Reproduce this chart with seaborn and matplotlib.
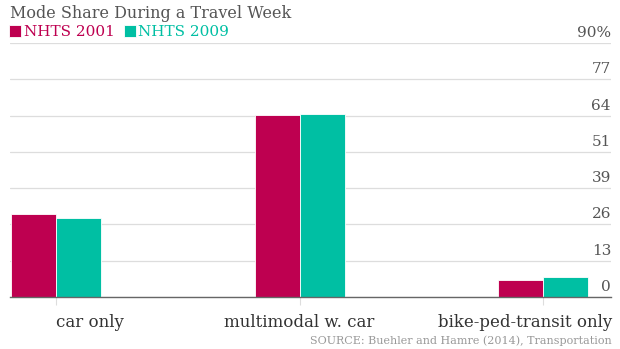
import numpy as np
import pandas as pd
import matplotlib
matplotlib.use("Agg")
import matplotlib.pyplot as plt
import matplotlib.transforms as mtransforms
import seaborn as sns

categories = ["car only", "multimodal w. car", "bike-ped-transit only"]
series_names = ["NHTS 2001", "NHTS 2009"]
share_2001 = [29.3, 64.5, 5.9]
share_2009 = [27.9, 64.8, 7.0]
ytick_values = [0, 90 / 7, 2 * 90 / 7, 3 * 90 / 7, 4 * 90 / 7, 5 * 90 / 7, 6 * 90 / 7, 90]
ytick_labels = ["0", "13", "26", "39", "51", "64", "77", "90%"]
colors = ["#BE0050", "#00BFA3"]

df = pd.DataFrame({
    "mode": categories * 2,
    "survey": [series_names[0]] * 3 + [series_names[1]] * 3,
    "share": share_2001 + share_2009,
})

sns.set_theme(style="white")
FONT = ["DejaVu Serif"]
plt.rcParams["font.family"] = FONT

fig = plt.figure(figsize=(6.2, 3.49), dpi=100)
ax = fig.add_axes([10 / 620, 52 / 349, 601 / 620, 254 / 349])

sns.barplot(data=df, x="mode", y="share", hue="survey", order=categories,
            hue_order=series_names, palette=colors, saturation=1, width=0.37,
            edgecolor="white", linewidth=0.6, ax=ax)

ax.set_xlim(-0.19, 2.28)
ax.set_ylim(0, 90)
ax.set_xlabel("")
ax.set_ylabel("")

for s in ["top", "left", "right"]:
    ax.spines[s].set_visible(False)
ax.spines["bottom"].set_color("#666666")
ax.spines["bottom"].set_linewidth(1.0)

ax.set_yticks(ytick_values)
ax.set_yticklabels(ytick_labels)
ax.yaxis.tick_right()
ax.tick_params(axis="y", length=0, pad=0, labelsize=11, labelcolor="#555555")
ax.yaxis.grid(True, color="#dddddd", linewidth=0.9)
ax.set_axisbelow(True)
up = mtransforms.ScaledTranslation(0, 3 / 100, fig.dpi_scale_trans)
for lab in ax.get_yticklabels():
    lab.set_horizontalalignment("right")
    lab.set_verticalalignment("bottom")
    lab.set_transform(lab.get_transform() + up)

ax.tick_params(axis="x", bottom=True, length=6, width=0.8, color="#dddddd",
               pad=6, labelsize=12, labelcolor="#333333")
ax.set_xticks(range(len(categories)))
ax.set_xticklabels(categories)
xl = ax.get_xticklabels()
xl[0].set_horizontalalignment("left")
xl[1].set_horizontalalignment("center")
xl[2].set_horizontalalignment("right")
right_shift = mtransforms.ScaledTranslation(69 / 100, 0, fig.dpi_scale_trans)
xl[2].set_transform(xl[2].get_transform() + right_shift)

sns.move_legend(ax, "center left", bbox_to_anchor=(9 / 620, 1 - 32 / 349),
                bbox_transform=fig.transFigure, ncol=2, frameon=False, title=None,
                fontsize=11, handlelength=0.8, handleheight=0.8,
                handletextpad=0.15, columnspacing=0.6, borderpad=0, borderaxespad=0)
leg = ax.get_legend()
for t, c in zip(leg.get_texts(), colors):
    t.set_color(c)

fig.text(10 / 620, 1 - 14 / 349, "Mode Share During a Travel Week", ha="left",
         va="center", fontsize=11.5, color="#555555")
fig.text(612 / 620, 1 - 341 / 349, "SOURCE: Buehler and Hamre (2014), Transportation",
         ha="right", va="center", fontsize=8, color="#999999")

fig.savefig("out.png", dpi=100)
